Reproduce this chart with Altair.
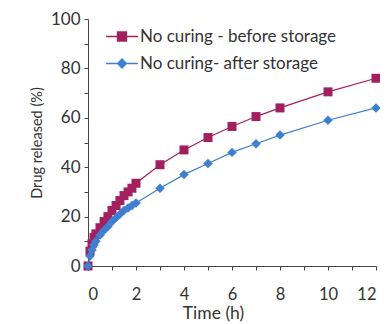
import altair as alt
import pandas as pd

times = [0, 0.083, 0.167, 0.25, 0.33, 0.5, 0.67, 0.83, 1, 1.17, 1.33, 1.5, 1.67, 1.83, 2, 3, 4, 5, 6, 7, 8, 10, 12]
before = [0, 6, 9, 11.5, 13, 15.5, 18, 20, 22.5, 24.5, 26.5, 28.5, 30, 31.5, 33.5, 41, 47, 52, 56.5, 60.5, 64, 70.5, 76]
after = [0, 4, 6.5, 8.5, 10, 12.5, 14.5, 16, 18, 19.5, 21, 22.5, 23.5, 24.5, 25.5, 31.5, 37, 41.5, 46, 49.5, 53, 59, 64]
series = ["No curing - before storage", "No curing-  after storage"]
colors = ["#A3205E", "#3F7FD0"]

rows = []
for t, v in zip(times, before):
    rows.append({"t": t, "v": v, "s": series[0]})
for t, v in zip(times, after):
    rows.append({"t": t, "v": v, "s": series[1]})
df = pd.DataFrame(rows)

FONT = "Lato"
sq = "M-2.9,0H-0.82M0.82,0H2.9M-0.82,-0.82H0.82V0.82H-0.82Z"
dm = "M-2.9,0H-0.8M0.8,0H2.9M0,-0.85L0.8,0L0,0.85L-0.8,0Z"
shape_expr = "datum.index === 0 ? '" + sq + "' : '" + dm + "'"

x = alt.X("t:Q", title="Time (h)",
          scale=alt.Scale(domain=[0, 12], nice=False),
          axis=alt.Axis(values=list(range(0, 13)),
                        labelExpr="datum.value % 2 === 0 ? datum.label : ''",
                        grid=False, tickSize=4, labelPadding=16, titlePadding=2,
                        labelFontSize=16.5, titleFontSize=17.5, titleX=125))
y = alt.Y("v:Q", title="Drug released (%)",
          scale=alt.Scale(domain=[0, 100], nice=False),
          axis=alt.Axis(values=list(range(0, 101, 10)),
                        labelExpr="datum.value % 20 === 0 ? datum.label : ''",
                        grid=False, tickSize=4, labelPadding=4, titlePadding=6,
                        labelFontSize=17, titleFontSize=14.5))
legend = alt.Legend(orient="none", legendX=25.5, legendY=9, title=None, padding=0,
                    symbolSize=121, labelOffset=9.5, rowPadding=9,
                    labelFontSize=17, labelFont=FONT, labelColor="#333",
                    labelLimit=400,
                    symbolType={"expr": shape_expr},
                    symbolStrokeWidth=1.3, symbolOpacity=1,
                    symbolStrokeColor={"expr": "scale('color', datum.value)"},
                    symbolFillColor={"expr": "scale('color', datum.value)"})
cscale = alt.Scale(domain=series, range=colors)

base = alt.Chart(df)
lines = base.mark_line(strokeWidth=1.2).encode(
    x=x, y=y, color=alt.Color("s:N", scale=cscale, legend=legend))
pts_before = base.transform_filter(alt.datum.s == series[0]).mark_point(
    filled=True, opacity=1, size=81, shape="square").encode(
    x=x, y=y, color=alt.Color("s:N", scale=cscale, legend=legend))
pts_after = base.transform_filter(alt.datum.s == series[1]).mark_point(
    filled=True, opacity=1, size=90, shape="diamond").encode(
    x=x, y=y, color=alt.Color("s:N", scale=cscale, legend=legend))

chart = alt.layer(lines, pts_before, pts_after).properties(
    width=288, height=247, background="white",
    autosize=alt.AutoSizeParams(type="none"),
    padding={"left": 80, "top": 11, "right": 4, "bottom": 57}
).configure_view(stroke=None).configure_axis(
    labelFont=FONT, titleFont=FONT,
    labelColor="#333", titleColor="#333", domainColor="#444", tickColor="#444",
    titleFontWeight="normal"
)

chart.save("out.html", embed_options={"renderer": "svg", "actions": False})
